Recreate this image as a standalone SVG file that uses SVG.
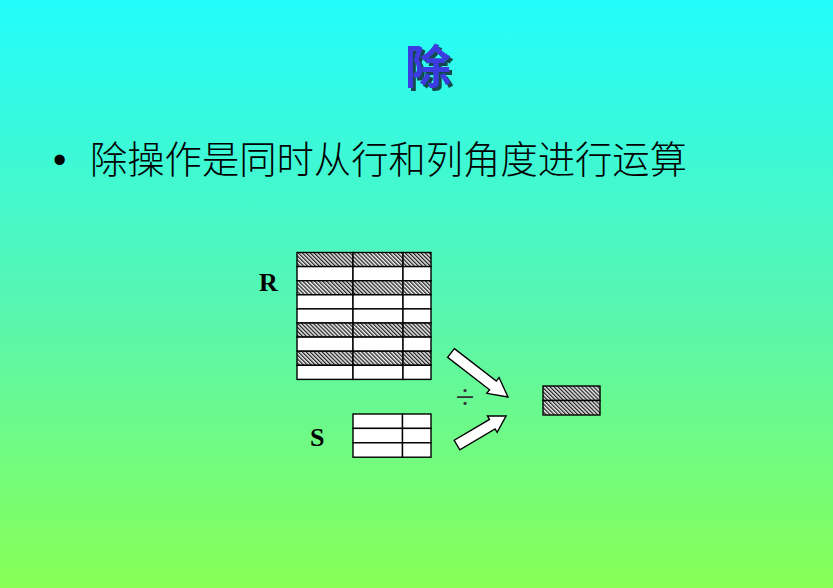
<svg xmlns="http://www.w3.org/2000/svg" width="833" height="588" viewBox="0 0 833 588">
<defs>
<linearGradient id="bg" x1="0" y1="0" x2="0" y2="1">
<stop offset="0" stop-color="#22FCFC"/>
<stop offset="0.5" stop-color="#55F6B4"/>
<stop offset="1" stop-color="#88FF55"/>
</linearGradient>
<pattern id="hatch" patternUnits="userSpaceOnUse" width="2.8" height="2.8" patternTransform="rotate(-45)">
<rect width="2.8" height="2.8" fill="#f4f4f4"/>
<rect width="1.3" height="2.8" fill="#222222"/>
</pattern>
<filter id="shadow" x="-20%" y="-20%" width="150%" height="150%">
<feDropShadow dx="3" dy="3" stdDeviation="0.6" flood-color="#0a2a30" flood-opacity="0.85"/>
</filter>
<style>
.cell{fill:#ffffff;stroke:#000;stroke-width:1.4}
.hcell{fill:url(#hatch);stroke:#000;stroke-width:1.4}
.arrow{fill:#ffffff;stroke:#000;stroke-width:1.4;stroke-linejoin:miter}
.lbl{font-family:"Liberation Serif","Times New Roman",serif;font-weight:bold;font-size:26px;fill:#000}
</style>
</defs>
<rect width="833" height="588" fill="url(#bg)"/>
<g id="title">
<text x="428" y="83" font-family="'Noto Sans CJK SC',sans-serif" font-size="46" font-weight="bold" fill="#3b3be0" text-anchor="middle" filter="url(#shadow)">除</text>
</g>
<g id="bullet">
<text x="53" y="173" font-family="'Liberation Sans',Arial,sans-serif" font-size="38" fill="#000">•</text>
<text x="90" y="173" font-family="'Noto Sans CJK SC',sans-serif" font-size="38" font-weight="300" fill="#000" textLength="597" lengthAdjust="spacingAndGlyphs">除操作是同时从行和列角度进行运算</text>
</g>
<g id="R">
<text class="lbl" x="259" y="291">R</text>
<g transform="translate(297,252.5)">
<rect class="hcell" x="0" y="0" width="56" height="14.1"/><rect class="hcell" x="56" y="0" width="50" height="14.1"/><rect class="hcell" x="106" y="0" width="28" height="14.1"/>
<rect class="cell" x="0" y="14.1" width="56" height="14.1"/><rect class="cell" x="56" y="14.1" width="50" height="14.1"/><rect class="cell" x="106" y="14.1" width="28" height="14.1"/>
<rect class="hcell" x="0" y="28.2" width="56" height="14.1"/><rect class="hcell" x="56" y="28.2" width="50" height="14.1"/><rect class="hcell" x="106" y="28.2" width="28" height="14.1"/>
<rect class="cell" x="0" y="42.3" width="56" height="14.1"/><rect class="cell" x="56" y="42.3" width="50" height="14.1"/><rect class="cell" x="106" y="42.3" width="28" height="14.1"/>
<rect class="cell" x="0" y="56.4" width="56" height="14.1"/><rect class="cell" x="56" y="56.4" width="50" height="14.1"/><rect class="cell" x="106" y="56.4" width="28" height="14.1"/>
<rect class="hcell" x="0" y="70.5" width="56" height="14.1"/><rect class="hcell" x="56" y="70.5" width="50" height="14.1"/><rect class="hcell" x="106" y="70.5" width="28" height="14.1"/>
<rect class="cell" x="0" y="84.6" width="56" height="14.1"/><rect class="cell" x="56" y="84.6" width="50" height="14.1"/><rect class="cell" x="106" y="84.6" width="28" height="14.1"/>
<rect class="hcell" x="0" y="98.7" width="56" height="14.1"/><rect class="hcell" x="56" y="98.7" width="50" height="14.1"/><rect class="hcell" x="106" y="98.7" width="28" height="14.1"/>
<rect class="cell" x="0" y="112.8" width="56" height="14.1"/><rect class="cell" x="56" y="112.8" width="50" height="14.1"/><rect class="cell" x="106" y="112.8" width="28" height="14.1"/>
</g>
</g>
<g id="S">
<text class="lbl" x="310" y="446">S</text>
<g transform="translate(353,414)">
<rect class="cell" x="0" y="0" width="49.5" height="14.4"/><rect class="cell" x="49.5" y="0" width="28.5" height="14.4"/>
<rect class="cell" x="0" y="14.4" width="49.5" height="14.4"/><rect class="cell" x="49.5" y="14.4" width="28.5" height="14.4"/>
<rect class="cell" x="0" y="28.8" width="49.5" height="14.4"/><rect class="cell" x="49.5" y="28.8" width="28.5" height="14.4"/>
</g>
</g>
<g id="result">
<rect class="hcell" x="543" y="386" width="57" height="14.5"/>
<rect class="hcell" x="543" y="400.5" width="57" height="14.5"/>
</g>
<g id="connectors">
<polygon class="arrow" transform="translate(451,353) rotate(37.7)" points="0,-5.5 53,-5.5 53,-10 72,0 53,10 53,5.5 0,5.5"/>
<polygon class="arrow" transform="translate(457,445) rotate(-30.6)" points="0,-5.5 41,-5.5 41,-9.5 57,0 41,9.5 41,5.5 0,5.5"/>
<text x="465" y="408" font-family="'Liberation Serif','Times New Roman',serif" font-size="34" fill="#333" text-anchor="middle">÷</text>
</g>
</svg>
